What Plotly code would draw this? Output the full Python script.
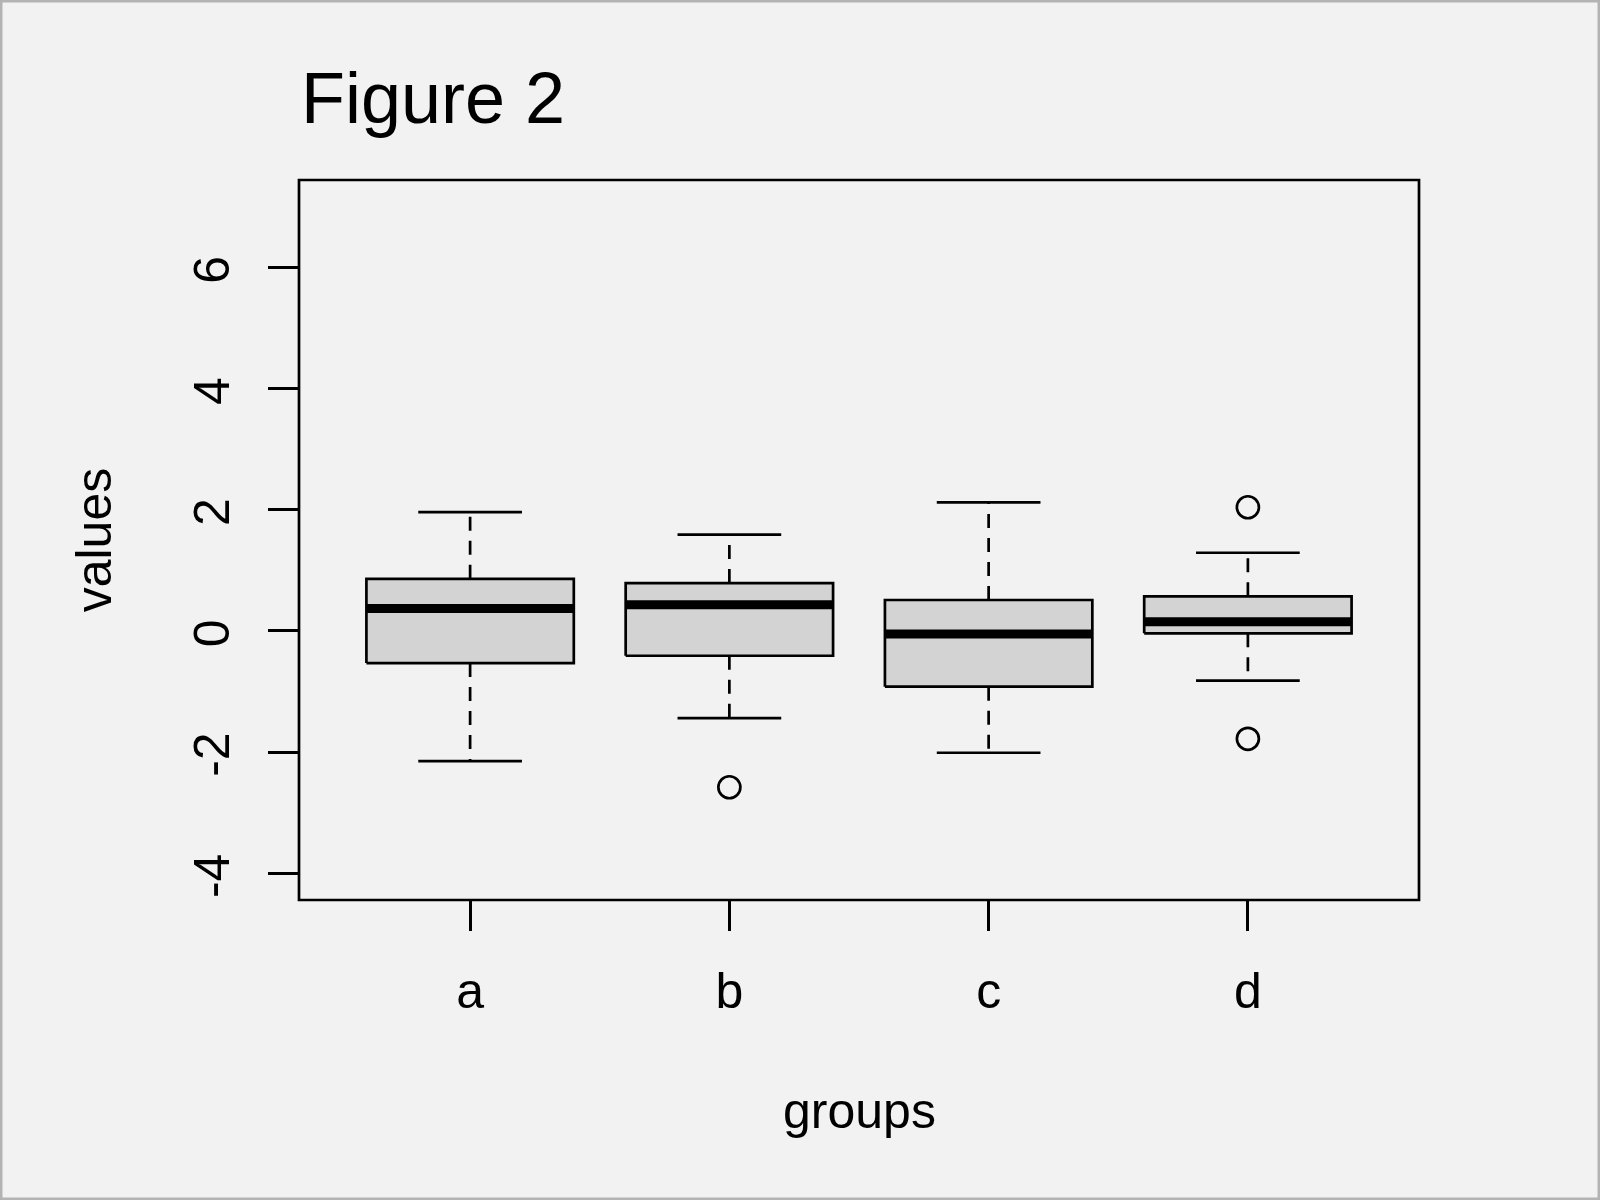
import plotly.graph_objects as go

# ---- data ----
categories = ["a", "b", "c", "d"]
lower_whisker = [-2.15, -1.44, -2.01, -0.82]
q1 = [-0.53, -0.41, -0.92, -0.04]
medians = [0.37, 0.43, -0.05, 0.15]
q3 = [0.86, 0.79, 0.51, 0.57]
upper_whisker = [1.96, 1.59, 2.12, 1.29]
outliers = {"a": [], "b": [-2.58], "c": [], "d": [2.04, -1.78]}

y_ticks = [-4, -2, 0, 2, 4, 6]

BOX_HALF = 0.4
CAP_HALF = 0.2
FONT = "Liberation Sans, Arial, Helvetica, sans-serif"
BG = "#f2f2f2"
LW = 2.7

fig = go.Figure()
positions = list(range(1, len(categories) + 1))

for i, cat in enumerate(categories):
    x = positions[i]
    # whiskers (dashed)
    fig.add_trace(go.Scatter(x=[x, x], y=[q3[i], upper_whisker[i]], mode="lines",
                             line=dict(color="black", width=LW, dash="14px,10px"),
                             showlegend=False, hoverinfo="skip"))
    fig.add_trace(go.Scatter(x=[x, x], y=[q1[i], lower_whisker[i]], mode="lines",
                             line=dict(color="black", width=LW, dash="14px,10px"),
                             showlegend=False, hoverinfo="skip"))
    # caps
    fig.add_trace(go.Scatter(x=[x - CAP_HALF, x + CAP_HALF], y=[upper_whisker[i]] * 2, mode="lines",
                             line=dict(color="black", width=LW), showlegend=False, hoverinfo="skip"))
    fig.add_trace(go.Scatter(x=[x - CAP_HALF, x + CAP_HALF], y=[lower_whisker[i]] * 2, mode="lines",
                             line=dict(color="black", width=LW), showlegend=False, hoverinfo="skip"))
    # box
    fig.add_trace(go.Scatter(
        x=[x - BOX_HALF, x + BOX_HALF, x + BOX_HALF, x - BOX_HALF, x - BOX_HALF],
        y=[q1[i], q1[i], q3[i], q3[i], q1[i]],
        mode="lines", fill="toself", fillcolor="#d3d3d3",
        line=dict(color="black", width=LW), showlegend=False, hoverinfo="skip"))
    # median
    fig.add_trace(go.Scatter(x=[x - BOX_HALF, x + BOX_HALF], y=[medians[i]] * 2, mode="lines",
                             line=dict(color="black", width=9), showlegend=False, hoverinfo="skip"))
    # outliers
    if outliers[cat]:
        fig.add_trace(go.Scatter(x=[x] * len(outliers[cat]), y=outliers[cat], mode="markers",
                                 marker=dict(symbol="circle-open", size=22, color="black",
                                             line=dict(width=LW, color="black")),
                                 showlegend=False, hoverinfo="skip"))

L, R, T, B = 299, 181, 180, 300
PW, PH = 1600 - L - R, 1200 - T - B

fig.update_layout(
    width=1600, height=1200,
    margin=dict(l=L, r=R, t=T, b=B, autoexpand=False),
    paper_bgcolor=BG, plot_bgcolor=BG,
    font=dict(family=FONT, color="black", size=50),
    title=dict(text="Figure 2", font=dict(size=72, family=FONT, color="black"),
               xref="container", x=301 / 1600, xanchor="left",
               yref="container", y=1 - 97.5 / 1200, yanchor="middle"),
    xaxis=dict(range=[0.34, 4.66], tickvals=positions, ticktext=categories,
               showgrid=False, zeroline=False, showline=False,
               ticks="outside", ticklen=30,
               tickwidth=LW, tickcolor="black", tickfont=dict(size=50, family=FONT),
               ticklabelstandoff=17),
    yaxis=dict(range=[-4.44, 7.44], tickvals=y_ticks, ticktext=[str(v) for v in y_ticks],
               showgrid=False, zeroline=False, showline=False,
               ticks="outside", ticklen=30,
               tickwidth=LW, tickcolor="black", tickangle=-90,
               tickfont=dict(size=50, family=FONT), ticklabelstandoff=19,
               ticklabelshift=10),
    annotations=[
        dict(text="groups", xref="paper", yref="paper", x=0.5, y=(900 - 1111) / PH,
             xanchor="center", yanchor="middle", showarrow=False,
             font=dict(size=50, family=FONT, color="black")),
        dict(text="values", xref="paper", yref="paper", x=(94.3 - L) / PW, y=0.5,
             xanchor="center", yanchor="middle", textangle=-90, showarrow=False,
             font=dict(size=50, family=FONT, color="black")),
    ],
    shapes=[
        dict(type="rect", xref="paper", yref="paper",
             x0=-L / PW, x1=(1600 - L) / PW, y0=-B / PH, y1=(1200 - B) / PH,
             line=dict(color="#b3b3b3", width=5), layer="below"),
        dict(type="rect", xref="paper", yref="paper", x0=0, x1=1, y0=0, y1=1,
             line=dict(color="black", width=LW), layer="above"),
    ],
)

fig.write_html("out.html")
